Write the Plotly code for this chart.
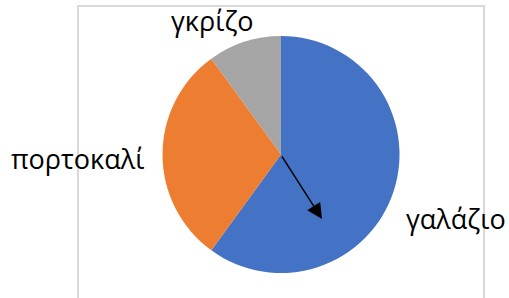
import plotly.graph_objects as go

categories = ["γαλάζιο", "πορτοκαλί", "γκρίζο"]
values = [60, 30, 10]
colors = ["#4472C4", "#ED7D31", "#A5A5A5"]

W, H = 509, 298

fig = go.Figure(go.Pie(
    labels=categories,
    values=values,
    marker=dict(colors=colors, line=dict(width=0)),
    sort=False,
    direction="clockwise",
    rotation=0,
    textinfo="none",
    hoverinfo="label+value",
    domain=dict(x=[162 / W, 400 / W], y=[1 - 273 / H, 1 - 36 / H]),
    showlegend=False,
))

label_pos = {
    "γαλάζιο": (456, 218),
    "πορτοκαλί": (77, 158),
    "γκρίζο": (212, 21),
}
font = dict(family="Open Sans", size=27, color="#000000")
for cat in categories:
    px, py = label_pos[cat]
    fig.add_annotation(x=px / W, y=1 - py / H, xref="paper", yref="paper",
                       text=cat, showarrow=False, font=font,
                       xanchor="center", yanchor="middle")

# arrow from pie centre
fig.add_annotation(x=322 / W, y=1 - 219 / H, xref="paper", yref="paper",
                   ax=281 - 322, ay=155 - 219, text="", showarrow=True,
                   arrowhead=2, arrowsize=2.2, arrowwidth=1.4, arrowcolor="#000000")

fig.add_shape(type="rect", xref="paper", yref="paper",
              x0=78 / W, x1=484 / W, y0=-0.1, y1=1 - 6 / H,
              line=dict(color="#D9D9D9", width=2), layer="below")

fig.update_layout(width=W, height=H, margin=dict(l=0, r=0, t=0, b=0),
                  paper_bgcolor="white", plot_bgcolor="white")

fig.write_html("out.html", config={"displayModeBar": False},
               post_script="document.body.style.margin='0';document.body.style.overflow='hidden';")
